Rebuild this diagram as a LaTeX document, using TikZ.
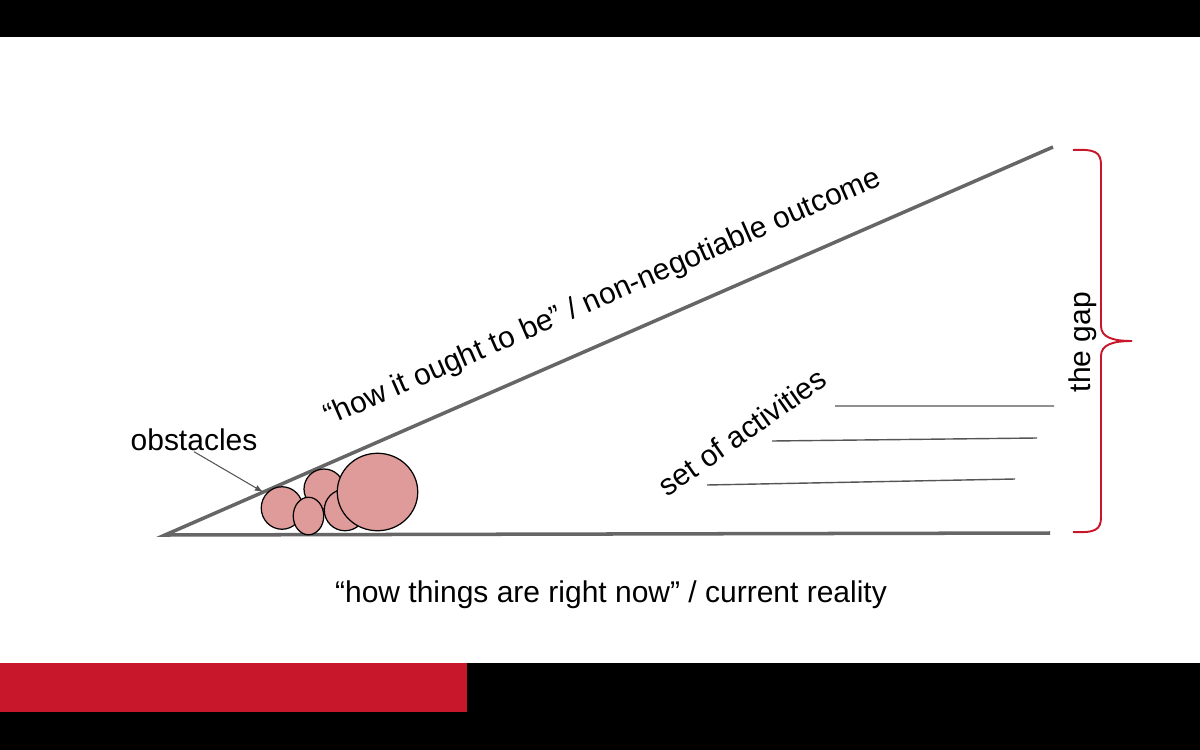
\documentclass[tikz,border=0pt]{standalone}
\usepackage{fontspec}
\setmainfont{Liberation Sans}
\usepackage{tikz}
\definecolor{gray600}{HTML}{666666}
\definecolor{gray700}{HTML}{555555}
\definecolor{red700}{HTML}{C8172B}
\definecolor{rose300}{HTML}{DE9B99}
\usetikzlibrary{arrows,shapes.geometric}
\tikzstyle{pedra}=[ellipse, draw=black, fill=rose300, line width=0.7pt, inner sep=0pt]
\tikzstyle{rotulo}=[font=\fontsize{17.07}{20}\selectfont, inner sep=0pt]
\tikzstyle{lado}=[draw=gray600, line width=2pt]
\tikzstyle{tarefa}=[draw=gray700, line width=0.8pt]

\begin{document}
\begin{tikzpicture}[x=0.02cm, y=-0.02cm, thick]
	\useasboundingbox (0,0) rectangle (1200,750);
	% faixas do slide
	\fill[black] (0,0) rectangle (1200,37);
	\fill[black] (0,663) rectangle (1200,750);
	\fill[red700] (0,663) rectangle (467,712);
	% triangulo
	\coordinate (a) at (165,535);
	\coordinate (b) at (1050,533);
	\coordinate (c) at (1053,147);
	\path[lado] (b)--(a)--(c);
	\node[rotulo, rotate=23.6] (ideal) at (603,298) {“how it ought to be” / non-negotiable outcome};
	\node[rotulo] (real) at (611,595) {“how things are right now” / current reality};
	% atividades
	\node[rotulo, rotate=35] (ativ) at (742,432) {set of activities};
	\coordinate (t1a) at (835,406);	\coordinate (t1b) at (1054,406);
	\coordinate (t2a) at (772,441);	\coordinate (t2b) at (1037,438);
	\coordinate (t3a) at (707,485);	\coordinate (t3b) at (1015,479);
	\path[tarefa] (t1a)--(t1b) (t2a)--(t2b) (t3a)--(t3b);
	% obstaculos
	\node[pedra, minimum width=0.83cm, minimum height=0.85cm] (p1) at (282,508) {};
	\node[pedra, minimum width=0.80cm, minimum height=0.80cm] (p2) at (324,489) {};
	\node[pedra, minimum width=0.83cm, minimum height=0.83cm] (p3) at (345,510) {};
	\node[pedra, minimum width=0.61cm, minimum height=0.75cm] (p4) at (308.5,516) {};
	\node[pedra, minimum width=1.61cm, minimum height=1.55cm] (p5) at (377.5,492) {};
	\node[rotulo] (obst) at (194,440) {obstacles};
	\coordinate (alvo) at (263,492);
	\draw[gray700, line width=0.6pt, -latex] (obst.south) -- (alvo);
	% o gap
	\coordinate (g1) at (1073,150);
	\coordinate (g2) at (1132,341);
	\coordinate (g3) at (1073,532);
	\draw[red700, line width=1.1pt] (g1) .. controls (1095,149) and (1101,152) .. (1101,165) -- (1101,326)
		.. controls (1101,337) and (1112,341) .. (g2) .. controls (1112,341) and (1101,345) .. (1101,356)
		-- (1101,517) .. controls (1101,530) and (1095,533) .. (g3);
	\node[rotulo, rotate=90] (gap) at (1083,342) {the gap};
\end{tikzpicture}
\end{document}
